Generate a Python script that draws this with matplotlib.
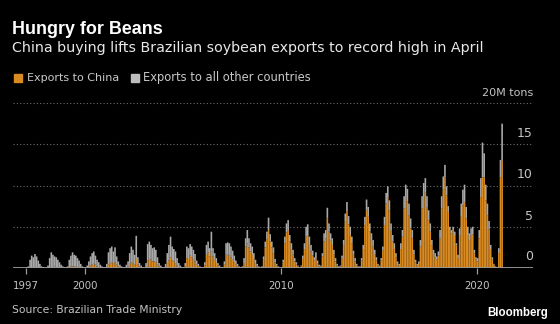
import numpy as np
import matplotlib
matplotlib.use("Agg")
import matplotlib.pyplot as plt
from matplotlib import font_manager
from matplotlib.font_manager import FontProperties

# ---------------- data (million tons, monthly, Jan 1997 - Apr 2021) ----------------
start_year = 1997
total_mt = [
    0.05, 0.2, 1.0, 1.5, 1.3, 1.7, 1.4, 0.9, 0.5, 0.2, 0.1, 0.05,   # 1997
    0.05, 0.3, 1.2, 1.9, 1.6, 1.4, 1.3, 1.0, 0.7, 0.4, 0.2, 0.1,    # 1998
    0.05, 0.2, 1.0, 1.5, 1.9, 1.6, 1.5, 1.2, 0.9, 0.5, 0.2, 0.1,    # 1999
    0.05, 0.3, 0.8, 1.4, 1.8, 2.0, 1.5, 1.0, 0.7, 0.4, 0.2, 0.1,    # 2000
    0.1, 0.5, 1.9, 2.4, 2.6, 2.0, 2.5, 1.4, 0.8, 0.4, 0.2, 0.1,     # 2001
    0.1, 0.4, 0.8, 1.8, 2.6, 2.2, 1.6, 3.9, 1.3, 0.6, 0.3, 0.1,     # 2002
    0.1, 0.6, 2.9, 3.2, 2.8, 2.4, 2.5, 2.2, 1.3, 0.6, 0.3, 0.1,     # 2003
    0.1, 0.5, 1.8, 2.8, 3.8, 2.6, 2.3, 2.0, 1.2, 0.6, 0.3, 0.1,     # 2004
    0.1, 0.6, 2.6, 2.4, 2.9, 2.6, 2.2, 1.7, 0.9, 0.5, 0.2, 0.1,     # 2005
    0.1, 0.7, 2.8, 3.2, 2.4, 4.4, 2.4, 1.8, 1.2, 0.6, 0.3, 0.1,     # 2006
    0.1, 0.8, 3.0, 3.1, 3.0, 2.6, 2.1, 1.5, 0.9, 0.5, 0.2, 0.1,     # 2007
    0.2, 1.2, 3.6, 4.6, 3.6, 3.0, 2.6, 1.8, 1.0, 0.5, 0.2, 0.1,     # 2008
    0.2, 1.4, 3.2, 4.4, 6.1, 4.1, 3.2, 2.5, 1.1, 0.5, 0.2, 0.1,     # 2009
    0.1, 1.0, 3.8, 5.4, 5.8, 4.0, 3.0, 2.2, 1.2, 0.7, 0.3, 0.1,     # 2010
    0.3, 1.5, 3.0, 5.0, 5.3, 3.8, 2.8, 2.1, 1.3, 1.9, 0.9, 0.4,     # 2011
    0.3, 1.8, 4.2, 4.6, 7.3, 5.4, 4.2, 3.6, 2.2, 1.2, 0.5, 0.2,     # 2012
    0.3, 1.5, 3.4, 6.6, 8.0, 6.3, 5.0, 3.8, 2.1, 1.2, 0.5, 0.2,     # 2013
    0.2, 1.2, 2.8, 6.2, 8.3, 7.4, 5.4, 4.2, 3.4, 2.2, 1.3, 0.5,     # 2014
    0.3, 1.2, 2.6, 6.2, 9.1, 9.9, 8.2, 5.4, 4.0, 3.0, 1.8, 0.8,     # 2015
    0.5, 3.0, 4.6, 8.7, 10.1, 9.6, 7.8, 6.0, 4.6, 2.2, 1.0, 0.5,    # 2016
    0.8, 3.4, 8.7, 10.3, 10.9, 8.7, 7.0, 5.4, 3.4, 2.2, 1.8, 1.4,   # 2017
    2.0, 4.6, 8.7, 11.1, 12.5, 9.9, 7.5, 5.0, 4.6, 5.0, 4.4, 3.0,   # 2018
    1.6, 4.8, 7.8, 9.5, 10.1, 7.4, 5.0, 4.2, 4.8, 5.0, 2.2, 1.3,    # 2019
    1.2, 4.6, 10.9, 15.2, 13.9, 10.1, 7.8, 5.7, 2.8, 1.3, 0.5, 0.2, # 2020
    0.1, 2.4, 13.1, 17.5,                                           # 2021
]
china_mt = [
    0, 0, 0, 0.03, 0.05, 0.1, 0.05, 0.02, 0, 0, 0, 0,               # 1997
    0, 0, 0.05, 0.1, 0.1, 0.15, 0.1, 0.1, 0.05, 0, 0, 0,            # 1998
    0, 0, 0.05, 0.15, 0.2, 0.2, 0.15, 0.1, 0.1, 0.05, 0, 0,         # 1999
    0, 0.02, 0.1, 0.3, 0.4, 0.5, 0.4, 0.2, 0.1, 0.05, 0, 0,         # 2000
    0, 0.05, 0.4, 0.6, 0.7, 0.6, 0.7, 0.4, 0.2, 0.1, 0.05, 0,       # 2001
    0, 0.05, 0.2, 0.5, 0.7, 0.6, 0.4, 1.1, 0.4, 0.2, 0.05, 0,       # 2002
    0, 0.1, 0.9, 1.1, 1.0, 0.8, 0.8, 0.7, 0.4, 0.2, 0.05, 0,        # 2003
    0, 0.1, 0.6, 0.9, 1.3, 0.9, 0.8, 0.6, 0.3, 0.1, 0.05, 0,        # 2004
    0, 0.2, 1.2, 1.1, 1.5, 1.3, 1.1, 0.8, 0.4, 0.2, 0.05, 0,        # 2005
    0, 0.3, 1.6, 1.9, 1.4, 2.0, 1.4, 1.0, 0.6, 0.3, 0.1, 0,         # 2006
    0.05, 0.4, 1.6, 1.6, 1.5, 1.3, 1.0, 0.7, 0.4, 0.2, 0.1, 0,      # 2007
    0.1, 0.6, 2.6, 3.0, 2.5, 2.0, 1.6, 1.0, 0.5, 0.2, 0.1, 0,       # 2008
    0.1, 1.0, 2.5, 3.5, 4.6, 3.2, 2.5, 1.8, 0.7, 0.3, 0.1, 0,       # 2009
    0.05, 0.7, 3.0, 4.3, 4.6, 3.2, 2.3, 1.6, 0.8, 0.4, 0.2, 0,      # 2010
    0.2, 1.1, 2.3, 3.8, 4.0, 2.8, 2.0, 1.5, 0.9, 1.2, 0.6, 0.2,     # 2011
    0.2, 1.4, 3.2, 3.6, 6.0, 4.4, 3.3, 2.8, 1.6, 0.8, 0.3, 0.1,     # 2012
    0.2, 1.2, 2.8, 5.6, 6.9, 5.3, 4.0, 3.0, 1.6, 0.8, 0.3, 0.1,     # 2013
    0.1, 0.9, 2.3, 5.2, 7.0, 6.2, 4.4, 3.3, 2.6, 1.6, 0.9, 0.3,     # 2014
    0.2, 0.9, 2.1, 5.2, 7.8, 8.6, 7.0, 4.5, 3.2, 2.3, 1.3, 0.5,     # 2015
    0.3, 2.3, 3.8, 7.2, 8.5, 8.1, 6.4, 4.8, 3.6, 1.6, 0.7, 0.3,     # 2016
    0.5, 2.6, 7.2, 8.6, 9.2, 7.3, 5.8, 4.4, 2.7, 1.7, 1.3, 1.0,     # 2017
    1.5, 3.6, 7.2, 9.5, 11.0, 8.8, 6.8, 4.6, 4.2, 4.6, 4.0, 2.7,    # 2018
    1.2, 3.9, 6.2, 7.6, 8.0, 6.0, 4.0, 3.4, 3.9, 4.1, 1.8, 1.0,     # 2019
    0.8, 3.6, 8.6, 11.0, 11.0, 8.2, 6.4, 4.7, 2.3, 1.0, 0.4, 0.1,   # 2020
    0.05, 1.8, 11.0, 13.0,                                          # 2021
]
tick_years = [1997, 2000, 2010, 2020]
tick_labels = ["1997", "2000", "2010", "2020"]
y_grid = [5, 10, 15, 20]
y_labels = ["5", "10", "15", "20M tons"]

title = "Hungry for Beans"
subtitle = "China buying lifts Brazilian soybean exports to record high in April"
legend_labels = ["Exports to China", "Exports to all other countries"]
source = "Source: Brazilian Trade Ministry"

# ---------------- style ----------------
ORANGE = "#d98a20"
GREY = "#a9a9a9"
BG = "black"
W, H = 560, 324


def has_font(name):
    try:
        font_manager.findfont(FontProperties(family=name), fallback_to_default=False)
        return True
    except Exception:
        return False


NARROW = "Liberation Sans Narrow" if has_font("Liberation Sans Narrow") else "DejaVu Sans"
BOLD = "Liberation Sans" if has_font("Liberation Sans") else "DejaVu Sans"

fig = plt.figure(figsize=(W / 100, H / 100), dpi=100, facecolor=BG)
renderer = fig.canvas.get_renderer()


def px_text(x, y, s, width=None, size=10, ha="left", va="baseline", **kw):
    t = fig.text(x / W, 1 - y / H, s, fontsize=size, ha=ha, va=va, **kw)
    if width is not None:
        bb = t.get_window_extent(renderer)
        t.set_fontsize(size * width / bb.width)
    return t


# axes: x in years, y in million tons
x_left_px, x_right_px = 13, 533
y0_px, y20_px = 268, 103
ax = fig.add_axes([x_left_px / W, 1 - y0_px / H, (x_right_px - x_left_px) / W,
                   (y0_px - y20_px) / H])
ax.set_facecolor(BG)
px_per_year = 19.6
xmin = 1997 - (26 - x_left_px) / px_per_year
xmax = xmin + (x_right_px - x_left_px) / px_per_year
ax.set_xlim(xmin, xmax)
ax.set_ylim(0, 20)

total = np.array(total_mt, dtype=float)
china = np.array(china_mt, dtype=float)
other = total - china
idx = np.arange(len(total))
xpos = start_year + idx / 12 + 1 / 24

for yv in y_grid:
    ax.axhline(yv, color="#6e6e6e", lw=0.8, linestyle=(0, (1, 2)), zorder=1)

bw = 1.0 / 12
ax.bar(xpos, china, width=bw, color=ORANGE, linewidth=0, zorder=2, snap=False)
ax.bar(xpos, other, bottom=china, width=bw, color=GREY, linewidth=0, zorder=2, snap=False)
ax.axhline(0, color="#9a9a9a", lw=1.3, zorder=3)

for s in ax.spines.values():
    s.set_visible(False)
ax.set_yticks([])
ax.set_xticks(tick_years)
ax.set_xticklabels([])
ax.tick_params(axis="x", direction="out", length=4, width=0.9, color="#9a9a9a")

# year labels
for yr, lab in zip(tick_years, tick_labels):
    xp = x_left_px + (yr - xmin) * px_per_year
    px_text(xp, 289, lab, width=26, size=9, ha="center", color="#c4c4c4", family=NARROW)

# right-hand value labels (above their gridlines)
right_px = 533
px_text(right_px, 260, "0", size=9, ha="right", color="#c4c4c4", family=NARROW)
for yv, lab in zip(y_grid, y_labels):
    yp = y0_px - yv * (y0_px - y20_px) / 20 - 7
    if lab.startswith("20"):
        px_text(right_px, yp, lab, width=51, size=9, ha="right", color="#c4c4c4", family=NARROW)
    else:
        px_text(right_px, yp, lab, size=9, ha="right", color="#c4c4c4", family=NARROW)

# titles
px_text(12.5, 34, title, width=150, size=11, color="white", fontweight="bold", family=BOLD)
px_text(12.5, 52, subtitle, width=475, size=11, color="#e8e8e8", family=NARROW)

# legend
fig.patches.append(plt.Rectangle((13.5 / W, 1 - 81.5 / H), 8 / W, 8 / H,
                                 transform=fig.transFigure, color=ORANGE))
px_text(27, 81, legend_labels[0], width=92, size=9, color="#c8c8c8", family=NARROW)
fig.patches.append(plt.Rectangle((131 / W, 1 - 81.5 / H), 8 / W, 8 / H,
                                 transform=fig.transFigure, color="#bdbdbd"))
px_text(143, 81, legend_labels[1], width=168, size=9, color="#c8c8c8", family=NARROW)

# footer
px_text(12.5, 313, source, width=171, size=9, color="#c4c4c4", family=NARROW)
px_text(548, 316, "Bloomberg", width=61, size=9, ha="right", color="white",
        fontweight="bold", family=BOLD)

fig.savefig("out.png", dpi=100, facecolor=BG)
